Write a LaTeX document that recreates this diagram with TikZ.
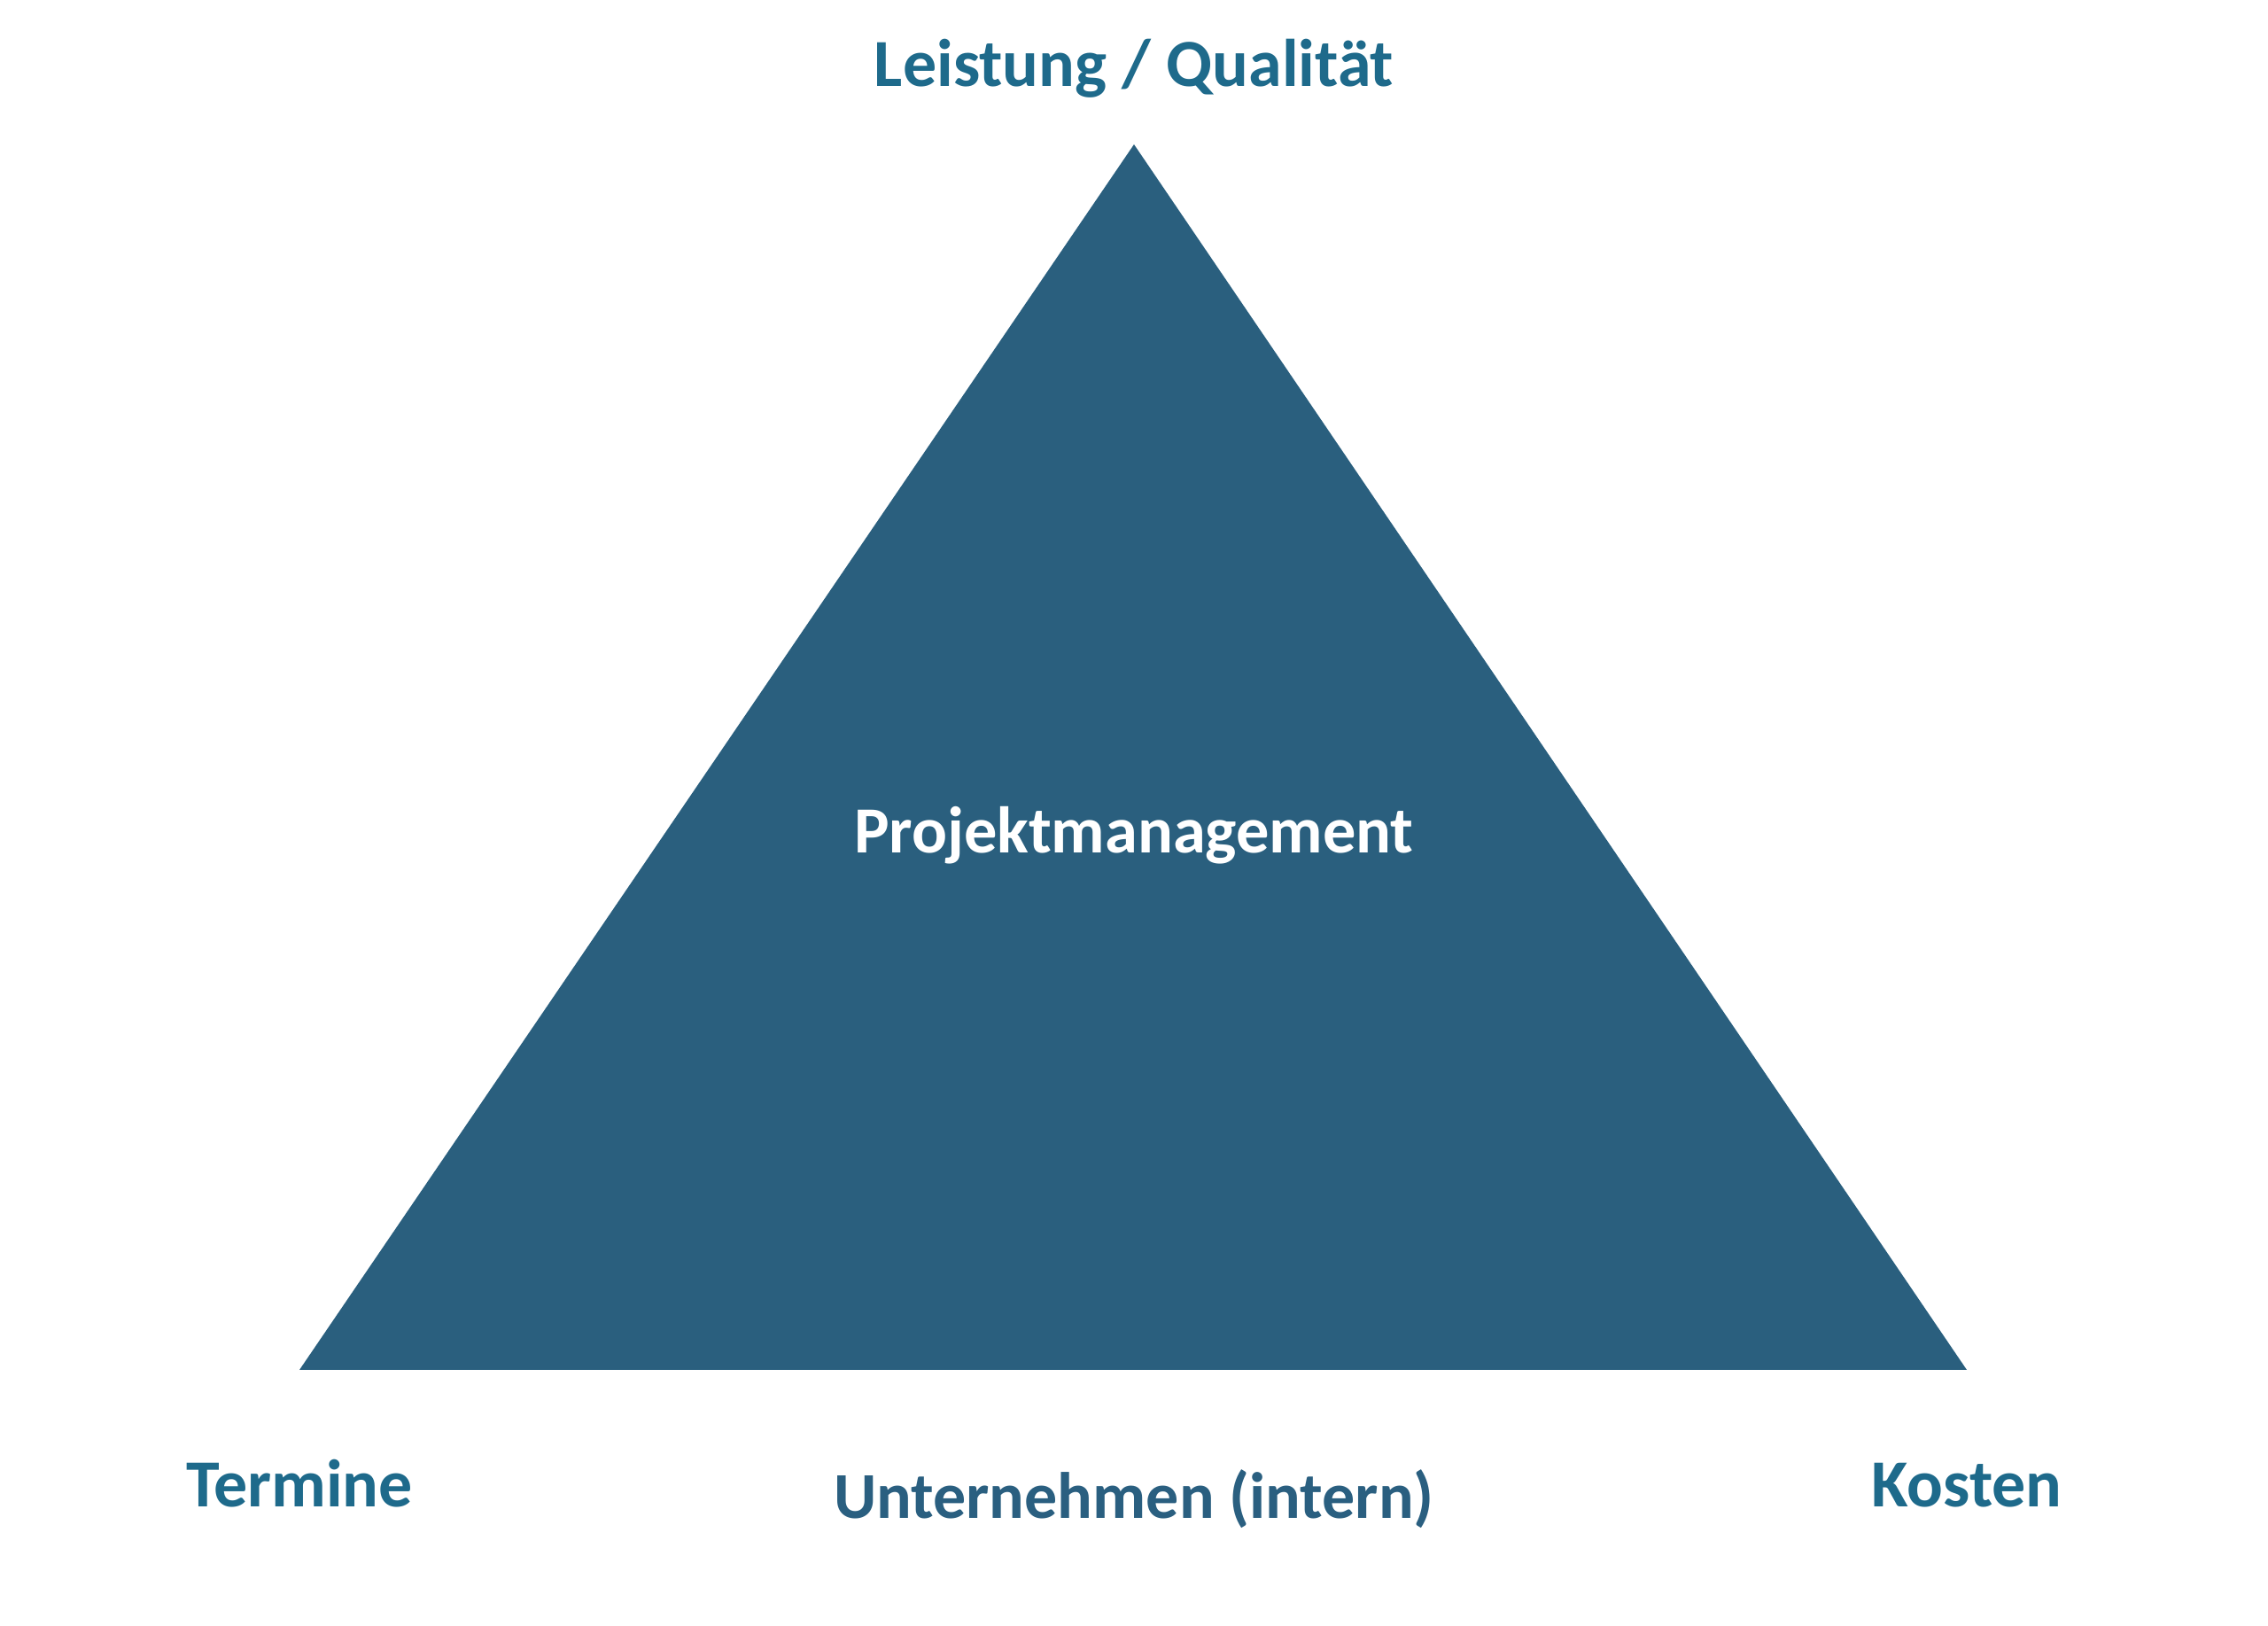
\documentclass[tikz,border=0pt]{standalone}
\usepackage{fontspec}
\setmainfont{Carlito}
\definecolor{tri}{HTML}{2A5F7E}
\definecolor{lab}{HTML}{1E6A8B}
\definecolor{labdark}{HTML}{2A5F80}
\begin{document}
\begin{tikzpicture}[x=1pt,y=1pt,
  lbl/.style={font=\bfseries\fontsize{38}{40}\selectfont, text=lab, anchor=base, inner sep=0pt},
  inlbl/.style={font=\bfseries\fontsize{37.2}{40}\selectfont, text=white, anchor=base, inner sep=0pt}]
\useasboundingbox (0,0) rectangle (1280,917.5);
\fill[white] (0,0) rectangle (1280,917.5);
\coordinate (A) at (640,836);
\coordinate (B) at (169,144.5);
\coordinate (C) at (1110,144.5);
\fill[tri] (A) -- (B) -- (C) -- cycle;
\node[lbl] (top) at (640,868.5) {Leistung / Qualität};
\node[inlbl] (pm) at (640,436) {Projektmanagement};
\node[lbl] (ter) at (169,67) {Termine};
\node[lbl] (kos) at (1110,67) {Kosten};
\node[lbl, text=labdark, font=\bfseries\fontsize{37}{40}\selectfont] (unt) at (640,60.5) {Unternehmen (intern)};
\end{tikzpicture}
\end{document}
